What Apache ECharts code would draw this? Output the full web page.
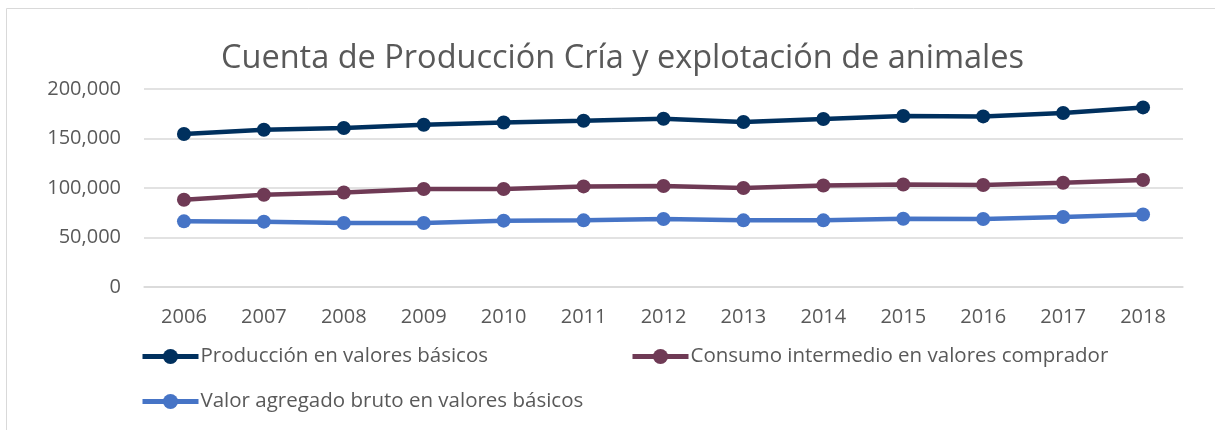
<!DOCTYPE html>
<html><head><meta charset="utf-8">
<script src="https://cdn.jsdelivr.net/npm/echarts@6/dist/echarts.min.js"></script>
<style>html,body{margin:0;padding:0;background:#fff}#c{width:1215px;height:430px}</style>
</head><body><div id="c"></div>
<script>
const years = ['2006','2007','2008','2009','2010','2011','2012','2013','2014','2015','2016','2017','2018'];
const produccion = [154500,158900,160600,163900,166200,168000,170000,166700,169700,172700,172300,175700,181400];
const consumo = [88200,93200,95500,99000,99000,101600,102000,100000,102600,103600,103000,105300,108100];
const valorAgregado = [66300,66000,64600,64600,67000,67300,68700,67300,67300,69000,68700,70700,73300];
const seriesNames = ['Producción en valores básicos','Consumo intermedio en valores comprador','Valor agregado bruto en valores básicos'];
const colors = ['#00305e','#6f3a55','#4674c6'];
const titleText = 'Cuenta de Producción Cría y explotación de animales';

const font = 'Open Sans';
const chart = echarts.init(document.getElementById('c'));
const mkSeries = (name, data, color) => ({
  name, type:'line', data, color,
  symbol:'circle', symbolSize:14,
  lineStyle:{width:4.5,color}, itemStyle:{color},
  animation:false
});
const mkLegend = (name, left, top) => ({
  data:[name], left, top, orient:'horizontal',
  itemWidth:56, itemHeight:19, itemGap:2,
  lineStyle:{width:5},
  textStyle:{color:'#595959', fontSize:20.5, fontFamily:font, padding:[0,0,0,-3]}
});
chart.setOption({
  animation:false,
  graphic:[{type:'rect', shape:{x:6.5,y:8.5,width:1230,height:440}, style:{fill:'none', stroke:'#d9d9d9', lineWidth:1}}],
  title:{text:titleText, left:216, top:37, textStyle:{color:'#595959', fontSize:32.5, fontWeight:'normal', fontFamily:font}},
  grid:{left:144, right:32, top:89, bottom:143},
  xAxis:{type:'category', data:years, boundaryGap:true,
    axisLine:{show:true, lineStyle:{color:'#d9d9d9', width:1.5}}, axisTick:{show:false},
    axisLabel:{color:'#595959', fontSize:20, fontFamily:font, margin:20}},
  yAxis:{type:'value', min:0, max:200000, interval:50000,
    axisLine:{show:false}, axisTick:{show:false},
    splitLine:{lineStyle:{color:'#d9d9d9', width:1.5}},
    axisLabel:{color:'#595959', fontSize:20, fontFamily:font, margin:23,
      formatter:v => v.toLocaleString('en-US')}},
  legend:[mkLegend(seriesNames[0],135,341), mkLegend(seriesNames[1],625,341), mkLegend(seriesNames[2],135,386)],
  series:[mkSeries(seriesNames[0],produccion,colors[0]), mkSeries(seriesNames[1],consumo,colors[1]), mkSeries(seriesNames[2],valorAgregado,colors[2])]
});
</script></body></html>
